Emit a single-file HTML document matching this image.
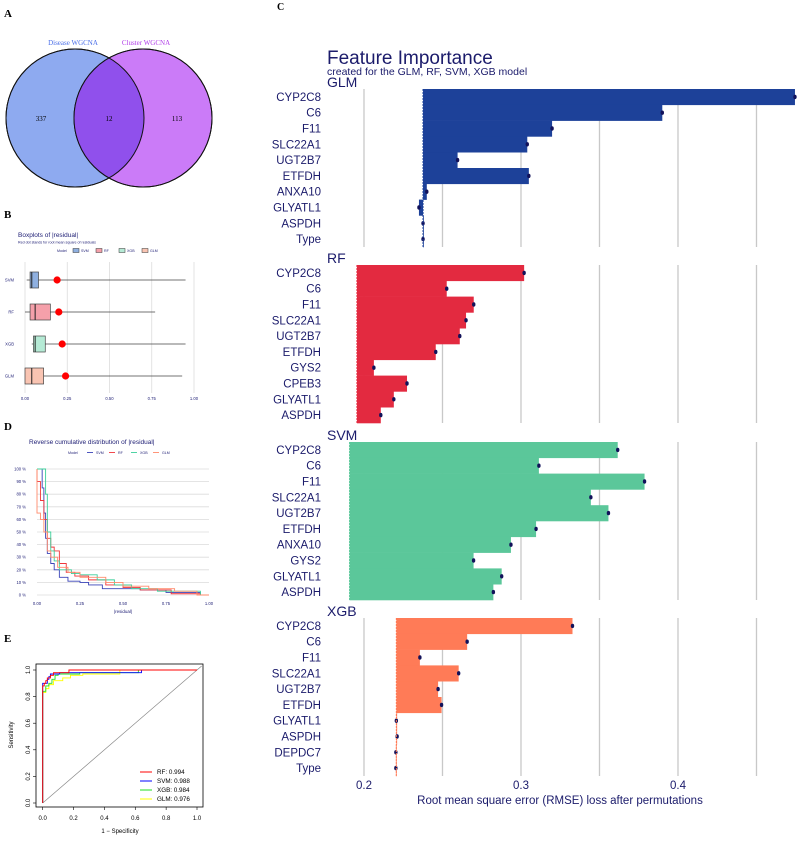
<!DOCTYPE html>
<html><head><meta charset="utf-8"><style>
html,body{margin:0;padding:0;background:#fff;width:798px;height:844px;overflow:hidden}
svg{display:block;font-family:"Liberation Sans",sans-serif}
.serif{font-family:"Liberation Serif",serif}
</style></head><body>
<svg id="fig" width="798" height="844" viewBox="0 0 798 844">
<g>
<text class="serif" x="4" y="17" font-size="11" font-weight="bold">A</text>
<circle cx="75" cy="118" r="69" fill="#8eaaf0" stroke="#111" stroke-width="1"/>
<circle cx="143" cy="118" r="69" fill="#cb7bf8" stroke="#111" stroke-width="1"/>
<clipPath id="clipL"><circle cx="75" cy="118" r="69"/></clipPath>
<circle cx="143" cy="118" r="69" fill="#9050ec" clip-path="url(#clipL)"/>
<circle cx="75" cy="118" r="69" fill="none" stroke="#111" stroke-width="1"/>
<circle cx="143" cy="118" r="69" fill="none" stroke="#111" stroke-width="1"/>
<text class="serif" x="73" y="45" font-size="7" fill="#4a6ee8" text-anchor="middle">Disease WGCNA</text>
<text class="serif" x="146" y="45" font-size="7" fill="#b03ce8" text-anchor="middle">Cluster WGCNA</text>
<text class="serif" x="41" y="121" font-size="7" text-anchor="middle">337</text>
<text class="serif" x="109" y="121" font-size="7" text-anchor="middle">12</text>
<text class="serif" x="177" y="121" font-size="7" text-anchor="middle">113</text>
</g>
<g id="pB">
<text class="serif" x="4" y="218" font-size="11" font-weight="bold">B</text>
<text x="18" y="237" font-size="6.5" fill="#222277">Boxplots of |residual|</text>
<text x="18" y="243.5" font-size="3.6" fill="#222277">Red dot stands for root mean square of residuals</text>
</g>
<g id="pD">
<text class="serif" x="4" y="430" font-size="11" font-weight="bold">D</text>
<text x="29" y="444" font-size="6.5" fill="#222277">Reverse cumulative distribution of |residual|</text>
</g>
<g id="pE">
<text class="serif" x="4" y="642" font-size="11" font-weight="bold">E</text>
</g>
<g id="pC">
<text class="serif" x="277" y="10" font-size="10" font-weight="bold">C</text>
<text x="327" y="64" font-size="19" fill="#1b1b6b">Feature Importance</text>
<text x="327" y="75" font-size="10.5" fill="#1b1b6b">created for the GLM, RF, SVM, XGB model</text>
<text x="560" y="804" font-size="11.5" fill="#1b1b6b" text-anchor="middle">Root mean square error (RMSE) loss after permutations</text>
</g>
</svg>
<script>
const NS='http://www.w3.org/2000/svg';
function mk(parent,tag,attrs){const e=document.createElementNS(NS,tag);for(const k in attrs)e.setAttribute(k,attrs[k]);parent.appendChild(e);return e;}

const fiModels=['GLM','RF','SVM','XGB'];
const fiColors=['#1d4199','#e32a40','#5bc79a','#ff7b57'];
const glmFeatures=['CYP2C8','C6','F11','SLC22A1','UGT2B7','ETFDH','ANXA10','GLYATL1','ASPDH','Type'];
const glmValues=[0.4745,0.390,0.3198,0.304,0.2596,0.305,0.240,0.235,0.2376,0.2376];
const glmBaseline=0.2376;
const rfFeatures=['CYP2C8','C6','F11','SLC22A1','UGT2B7','ETFDH','GYS2','CPEB3','GLYATL1','ASPDH'];
const rfValues=[0.302,0.2527,0.2699,0.265,0.261,0.2457,0.2063,0.2274,0.219,0.2107];
const rfBaseline=0.1955;
const svmFeatures=['CYP2C8','C6','F11','SLC22A1','UGT2B7','ETFDH','ANXA10','GYS2','GLYATL1','ASPDH'];
const svmValues=[0.3616,0.3114,0.3787,0.3445,0.3557,0.3096,0.2936,0.2698,0.2877,0.2824];
const svmBaseline=0.1908;
const xgbFeatures=['CYP2C8','C6','F11','SLC22A1','UGT2B7','ETFDH','GLYATL1','ASPDH','DEPDC7','Type'];
const xgbValues=[0.3328,0.2657,0.2356,0.2603,0.2472,0.2494,0.2206,0.2211,0.2203,0.2203];
const xgbBaseline=0.2206;
const fiTicks=[0.2,0.3,0.4];
const fiGrid=[0.2,0.25,0.3,0.35,0.4,0.45];

(function(){
const g=document.getElementById('pC');
const xs=v=>364+(v-0.2)*1570;
const tops=[89,265,442,618], H=158;
const feats=[glmFeatures,rfFeatures,svmFeatures,xgbFeatures];
const vals=[glmValues,rfValues,svmValues,xgbValues];
const bases=[glmBaseline,rfBaseline,svmBaseline,xgbBaseline];
for(let p=0;p<4;p++){
  const top=tops[p], step=H/feats[p].length;
  for(const gv of fiGrid){
    const l=mk(g,'line',{x1:xs(gv),x2:xs(gv),y1:top,y2:top+H,stroke:'#c8c8c8','stroke-width':1.3});
    
    
  }
  const st=mk(g,'text',{x:327,y:top-2,'font-size':14,fill:'#1b1b6b'});
  st.textContent=fiModels[p];
  
  
  const b=xs(bases[p]);
  for(let i=0;i<feats[p].length;i++){
    const y0=top+i*step, v=xs(vals[p][i]);
    const r=mk(g,'rect',{x:Math.min(b,v),y:y0,width:Math.max(Math.abs(v-b),0.8),height:step+0.3,fill:fiColors[p]});
    
    
    const d=mk(g,'ellipse',{cx:v,cy:y0+step/2,rx:1.7,ry:2.2,fill:'#12125a'});
    
    
    const t=mk(g,'text',{x:321,y:y0+step/2+4,'font-size':11.5,'text-anchor':'end',fill:'#1b1b6b'});
    t.textContent=feats[p][i];
    
    
  }
  const bl=mk(g,'line',{x1:b,x2:b,y1:top,y2:top+H,stroke:fiColors[p],'stroke-width':1,'stroke-dasharray':'2,1'});
  
  
}
for(const tv of fiTicks){
  const t=mk(g,'text',{x:xs(tv),y:789,'font-size':11.5,'text-anchor':'middle',fill:'#1b1b6b'});
  t.textContent=tv.toFixed(1);
  
  
}
})();

const bxModels=['SVM','RF','XGB','GLM'];
const bxColors=['#8fb0e0','#f5a0aa','#b5ead5','#f9c4b2'];
const bxWhiskerLo=[0.01,0.0,0.04,0.0];
const bxQ1=[0.03,0.03,0.05,0.0];
const bxMedian=[0.04,0.06,0.06,0.04];
const bxQ3=[0.08,0.15,0.12,0.11];
const bxWhiskerHi=[0.95,0.77,0.95,0.93];
const bxRmse=[0.19,0.20,0.22,0.24];
const bxTicks=[0,0.25,0.5,0.75,1.0];
(function(){
const g=document.getElementById('pB');
const xs=v=>25+v*169;
const lg=mk(g,'text',{x:57,y:252,'font-size':3.6,fill:'#222277'});lg.textContent='Model';


bxModels.forEach((m,i)=>{
  const x=73+i*23;
  const r=mk(g,'rect',{x:x,y:248.5,width:6,height:4,fill:bxColors[i],stroke:'#333','stroke-width':0.5});
  
  
  const t=mk(g,'text',{x:x+8,y:252,'font-size':3.6,fill:'#222277'});t.textContent=m;
  
  
});
for(const tv of bxTicks){
  const l=mk(g,'line',{x1:xs(tv),x2:xs(tv),y1:262,y2:393,stroke:'#dcdcdc','stroke-width':0.8});
  
  
  const t=mk(g,'text',{x:xs(tv),y:400,'font-size':4.2,'text-anchor':'middle',fill:'#222277'});
  t.textContent=tv===1?'1.00':tv.toFixed(2);
  
  
}
bxModels.forEach((m,i)=>{
  const cy=280+i*32;
  const t=mk(g,'text',{x:14,y:cy+1.5,'font-size':4.2,'text-anchor':'end',fill:'#222277'});t.textContent=m;
  
  
  const w=mk(g,'line',{x1:xs(bxWhiskerLo[i]),x2:xs(bxWhiskerHi[i]),y1:cy,y2:cy,stroke:'#444','stroke-width':0.8});
  
  
  const r=mk(g,'rect',{x:xs(bxQ1[i]),y:cy-8,width:xs(bxQ3[i])-xs(bxQ1[i]),height:16,fill:bxColors[i],stroke:'#444','stroke-width':0.7});
  
  
  const md=mk(g,'line',{x1:xs(bxMedian[i]),x2:xs(bxMedian[i]),y1:cy-8,y2:cy+8,stroke:'#222','stroke-width':1});
  
  
  const d=mk(g,'circle',{cx:xs(bxRmse[i]),cy:cy,r:3.6,fill:'#ff0000'});
  
  
});
})();

const rcModels=['SVM','RF','XGB','GLM'];
const rcColors=['#3a43b8','#f0353a','#3ccf9a','#ff8a6a'];
const svmResid=[0,0.02,0.03,0.04,0.05,0.06,0.08,0.10,0.13,0.18,0.25,0.30,0.38,0.50,0.60,0.75,0.95,1.0];
const svmPct=[100,100,85,65,45,33,25,20,14,11,10,8,5,5,4,2,0,0];
const rfResid=[0,0.0,0.02,0.04,0.06,0.08,0.10,0.13,0.17,0.22,0.30,0.40,0.50,0.60,0.78,0.95,1.0];
const rfPct=[100,90,75,60,45,38,35,25,18,15,12,8,6,4,1,0,0];
const xgbResid=[0,0.03,0.05,0.05,0.06,0.08,0.10,0.13,0.20,0.25,0.35,0.45,0.55,0.70,0.95,1.0];
const xgbPct=[100,100,95,80,50,35,27,20,17,16,12,8,5,3,0,0];
const glmResid=[0,0.0,0.02,0.04,0.06,0.08,0.12,0.18,0.25,0.40,0.50,0.65,0.80,0.93,1.0];
const glmPct=[100,65,60,50,35,30,22,18,14,10,7,5,3,0,0];
const rcXTicks=[0,0.25,0.5,0.75,1.0];
const rcYTicks=[0,10,20,30,40,50,60,70,80,90,100];
(function(){
const g=document.getElementById('pD');
const xs=v=>37+v*172, ys=p=>595-p*1.26;
const lt=mk(g,'text',{x:68,y:454,'font-size':3.6,fill:'#222277'});lt.textContent='Model';


rcModels.forEach((m,i)=>{
  const x=87+i*22;
  const l=mk(g,'line',{x1:x,x2:x+6,y1:452.5,y2:452.5,stroke:rcColors[i],'stroke-width':0.9});
  
  
  const t=mk(g,'text',{x:x+9,y:454,'font-size':3.6,fill:'#222277'});t.textContent=m;
  
  
});
for(const p of rcYTicks){
  const l=mk(g,'line',{x1:37,x2:209,y1:ys(p),y2:ys(p),stroke:'#dcdcdc','stroke-width':0.8});
  
  
  const t=mk(g,'text',{x:26,y:ys(p)+1.5,'font-size':4.2,'text-anchor':'end',fill:'#222277'});t.textContent=p+' %';
  
  
}
for(const v of rcXTicks){
  const t=mk(g,'text',{x:xs(v),y:605,'font-size':4.2,'text-anchor':'middle',fill:'#222277'});t.textContent=v===1?'1.00':v.toFixed(2);
  
  
}
const xt=mk(g,'text',{x:123,y:613,'font-size':4.5,'text-anchor':'middle',fill:'#222277'});xt.textContent='|residual|';


const R=[svmResid,rfResid,xgbResid,glmResid], P=[svmPct,rfPct,xgbPct,glmPct];
for(let k=0;k<4;k++){
  let d='M'+xs(R[k][0])+','+ys(P[k][0]);
  for(let i=1;i<R[k].length;i++){d+=' L'+xs(R[k][i])+','+ys(P[k][i-1])+' L'+xs(R[k][i])+','+ys(P[k][i]);}
  const pa=mk(g,'path',{d:d,fill:'none',stroke:rcColors[k],'stroke-width':0.9});
  
  
}
})();

const rocModels=['RF','SVM','XGB','GLM'];
const rocAuc=['0.994','0.988','0.984','0.976'];
const rocColors=['#ff0000','#0000ff','#22dd22','#ffff00'];
const rfFpr=[0,0,0.01,0.02,0.03,0.05,0.07,0.17,0.17,1];
const rfTpr=[0,0.88,0.90,0.92,0.94,0.96,0.98,0.99,1.0,1.0];
const svmFpr=[0,0,0,0.02,0.03,0.04,0.05,0.11,0.64,0.64,1];
const svmTpr=[0,0.85,0.90,0.90,0.93,0.95,0.97,0.98,0.99,1.0,1.0];
const xgbFpr=[0,0,0.02,0.04,0.06,0.08,0.10,0.24,0.58,0.62,1];
const xgbTpr=[0,0.84,0.88,0.90,0.93,0.96,0.97,0.98,0.98,1.0,1.0];
const glmFpr=[0,0,0.02,0.04,0.07,0.13,0.18,0.26,0.50,0.50,1];
const glmTpr=[0,0.83,0.86,0.89,0.92,0.94,0.96,0.97,0.98,1.0,1.0];
const rocTicks=[0,0.2,0.4,0.6,0.8,1.0];
(function(){
const g=document.getElementById('pE');
const xs=v=>42.7+v*154.3, ys=v=>803-v*133;
const box=mk(g,'rect',{x:36,y:664,width:167,height:143,fill:'none',stroke:'#000','stroke-width':0.8});


const dg=mk(g,'line',{x1:xs(0),y1:ys(0),x2:xs(1.03),y2:ys(1.03),stroke:'#888','stroke-width':0.7});


for(const v of rocTicks){
  const a=mk(g,'line',{x1:xs(v),x2:xs(v),y1:807,y2:810,stroke:'#000','stroke-width':0.6});
  
  
  const t=mk(g,'text',{x:xs(v),y:820,'font-size':6,'text-anchor':'middle'});t.textContent=v.toFixed(1);
  
  
  const b=mk(g,'line',{x1:33,x2:36,y1:ys(v),y2:ys(v),stroke:'#000','stroke-width':0.6});
  
  
  const u=mk(g,'text',{x:0,y:0,'font-size':6,'text-anchor':'middle',transform:'translate(30,'+ys(v)+') rotate(-90)'});u.textContent=v.toFixed(1);
  
  
}
const xl=mk(g,'text',{x:120,y:833,'font-size':6,'text-anchor':'middle'});xl.textContent='1 − Specificity';


const yl=mk(g,'text',{x:0,y:0,'font-size':6,'text-anchor':'middle',transform:'translate(13,735) rotate(-90)'});yl.textContent='Sensitivity';


const F=[rfFpr,svmFpr,xgbFpr,glmFpr], T=[rfTpr,svmTpr,xgbTpr,glmTpr];
for(let k=3;k>=0;k--){
  let d='M'+xs(F[k][0])+','+ys(T[k][0]);
  for(let i=1;i<F[k].length;i++){d+=' L'+xs(F[k][i])+','+ys(T[k][i-1])+' L'+xs(F[k][i])+','+ys(T[k][i]);}
  const pa=mk(g,'path',{d:d,fill:'none',stroke:rocColors[k],'stroke-width':0.9});
  
  
}
rocModels.forEach((m,i)=>{
  const y=772+i*9;
  const l=mk(g,'line',{x1:140,x2:152,y1:y,y2:y,stroke:rocColors[i],'stroke-width':1});
  
  
  const t=mk(g,'text',{x:157,y:y+2.2,'font-size':6.3});t.textContent=m+': '+rocAuc[i];
  
  
});
})();
</script>
</body></html>
